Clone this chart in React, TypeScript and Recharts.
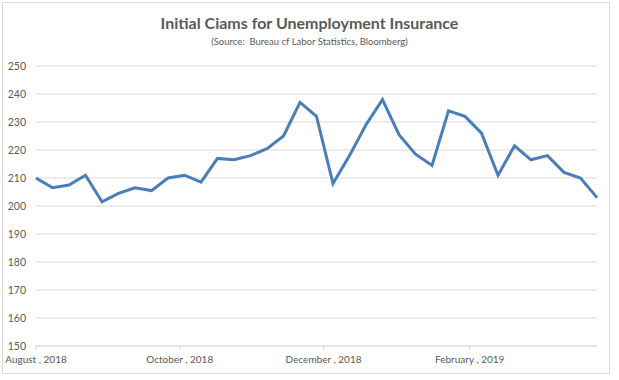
import React from 'react';
import { LineChart, Line, XAxis, YAxis, CartesianGrid } from 'recharts';

// weekly observations
const weeks = [
  '2018-08-01', '2018-08-08', '2018-08-15', '2018-08-22', '2018-08-29',
  '2018-09-05', '2018-09-12', '2018-09-19', '2018-09-26',
  '2018-10-03', '2018-10-10', '2018-10-17', '2018-10-24', '2018-10-31',
  '2018-11-07', '2018-11-14', '2018-11-21', '2018-11-28',
  '2018-12-05', '2018-12-12', '2018-12-19', '2018-12-26',
  '2019-01-02', '2019-01-09', '2019-01-16', '2019-01-23', '2019-01-30',
  '2019-02-06', '2019-02-13', '2019-02-20', '2019-02-27',
  '2019-03-06', '2019-03-13', '2019-03-20', '2019-03-27',
];

// initial claims, thousands
const claims = [
  210, 206.5, 207.5, 211, 201.5,
  204.5, 206.5, 205.5, 210,
  211, 208.5, 217, 216.5, 218,
  220.5, 225, 237, 232,
  208, 218, 229, 238,
  225.5, 218.5, 214.5, 234, 232,
  226, 211, 221.5, 216.5,
  218, 212, 210, 203,
];

const tickDates = ['2018-08-01', '2018-10-01', '2018-12-01', '2019-02-01'];
const tickLabels = ['August , 2018', 'October , 2018', 'December , 2018', 'February , 2019'];
const yTicks = [150, 160, 170, 180, 190, 200, 210, 220, 230, 240, 250];

const toTime = (d: string) => new Date(d + 'T00:00:00Z').getTime();

const data = weeks.map((w, i) => ({ t: toTime(w), value: claims[i] }));
const xTicks = tickDates.map(toTime);

const formatX = (v: number) => {
  const idx = xTicks.indexOf(v);
  return idx >= 0 ? tickLabels[idx] : '';
};

const font = 'Lato, "Open Sans", sans-serif';
const grey = '#595959';

export default function App() {
  return (
    <div style={{ position: 'relative', width: 619, height: 380, background: '#fff', fontFamily: font }}>
      <style>{'body{margin:0}'}</style>
      <div
        style={{
          position: 'absolute',
          left: 2,
          top: 2,
          width: 608,
          height: 372,
          border: '1px solid #d9d9d9',
          boxSizing: 'border-box',
        }}
      />
      <div
        style={{
          position: 'absolute',
          top: 13,
          width: 619,
          textAlign: 'center',
          fontSize: 16,
          fontWeight: 700,
          color: grey,
          lineHeight: '20px',
        }}
      >
        Initial Ciams for Unemployment Insurance
      </div>
      <div
        style={{
          position: 'absolute',
          top: 36,
          width: 619,
          textAlign: 'center',
          fontSize: 9.5,
          color: grey,
          lineHeight: '12px',
          whiteSpace: 'pre',
        }}
      >
        {'(Source:  Bureau cf Labor Statistics, Bloomberg)'}
      </div>
      <div style={{ position: 'absolute', left: 0, top: 0 }}>
        <LineChart width={619} height={380} data={data} margin={{ top: 66, right: 22, bottom: 4, left: 0 }}>
          <CartesianGrid vertical={false} stroke="#d9d9d9" strokeWidth={1} />
          <XAxis
            dataKey="t"
            type="number"
            scale="time"
            domain={['dataMin', 'dataMax']}
            ticks={xTicks}
            tickFormatter={formatX}
            interval={0}
            height={30}
            stroke="#d9d9d9"
            tickSize={4}
            tickMargin={6}
            tick={{ fill: grey, fontSize: 10, fontFamily: font }}
          />
          <YAxis
            domain={[150, 250]}
            ticks={yTicks}
            interval={0}
            width={36}
            axisLine={false}
            tickLine={false}
            tickSize={4}
            tickMargin={6}
            tick={{ fill: grey, fontSize: 10.5, fontFamily: font }}
          />
          <Line
            type="linear"
            dataKey="value"
            stroke="#4a7ebb"
            strokeWidth={3}
            dot={false}
            isAnimationActive={false}
          />
        </LineChart>
      </div>
    </div>
  );
}
